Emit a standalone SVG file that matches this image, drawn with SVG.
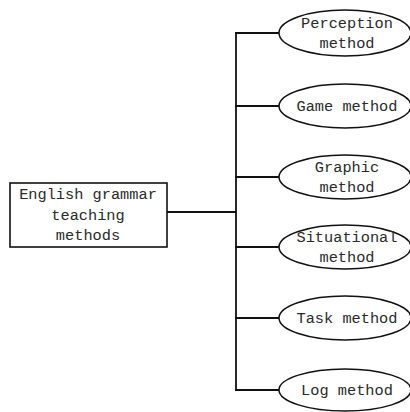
<svg xmlns="http://www.w3.org/2000/svg" width="410" height="412" viewBox="0 0 410 412">
  <style>
    .lbl { font-family: "Liberation Mono", "DejaVu Sans Mono", monospace; font-size: 15.3px; fill: #2a2a2a; text-anchor: middle; }
    .box { fill: #fff; stroke: #111; stroke-width: 1.6; }
    .oval { fill: #fff; stroke: #111; stroke-width: 1.5; }
    .wire { fill: none; stroke: #111; stroke-width: 1.8; }
  </style>
  <rect width="410" height="412" fill="#fff"/>

  <!-- connectors: trunk from the root box, vertical spine, and branches -->
  <g id="connectors">
    <line class="wire" x1="167" y1="212" x2="236" y2="212"/>
    <line class="wire" x1="236" y1="33" x2="236" y2="391"/>
    <line class="wire" x1="235" y1="33" x2="279" y2="33"/>
    <line class="wire" x1="235" y1="106" x2="279" y2="106"/>
    <line class="wire" x1="235" y1="177" x2="279" y2="177"/>
    <line class="wire" x1="235" y1="247" x2="279" y2="247"/>
    <line class="wire" x1="235" y1="318" x2="279" y2="318"/>
    <line class="wire" x1="235" y1="390" x2="279" y2="390"/>
  </g>

  <g id="root">
    <rect class="box" x="10" y="183" width="157" height="64"/>
    <text class="lbl" x="88" y="199">English grammar</text>
    <text class="lbl" x="88" y="220">teaching</text>
    <text class="lbl" x="88" y="240">methods</text>
  </g>

  <g id="perception">
    <ellipse class="oval" cx="345" cy="33" rx="66" ry="23"/>
    <text class="lbl" x="347" y="28">Perception</text>
    <text class="lbl" x="347" y="48">method</text>
  </g>

  <g id="game">
    <ellipse class="oval" cx="345" cy="106" rx="66" ry="22"/>
    <text class="lbl" x="347" y="111">Game method</text>
  </g>

  <g id="graphic">
    <ellipse class="oval" cx="345" cy="177" rx="66" ry="22"/>
    <text class="lbl" x="347" y="172">Graphic</text>
    <text class="lbl" x="347" y="192">method</text>
  </g>

  <g id="situational">
    <ellipse class="oval" cx="345" cy="247" rx="66" ry="22"/>
    <text class="lbl" x="347" y="242">Situational</text>
    <text class="lbl" x="347" y="262">method</text>
  </g>

  <g id="task">
    <ellipse class="oval" cx="345" cy="318" rx="66" ry="22"/>
    <text class="lbl" x="347" y="323">Task method</text>
  </g>

  <g id="log">
    <ellipse class="oval" cx="345" cy="390" rx="66" ry="21"/>
    <text class="lbl" x="347" y="395">Log method</text>
  </g>
</svg>
